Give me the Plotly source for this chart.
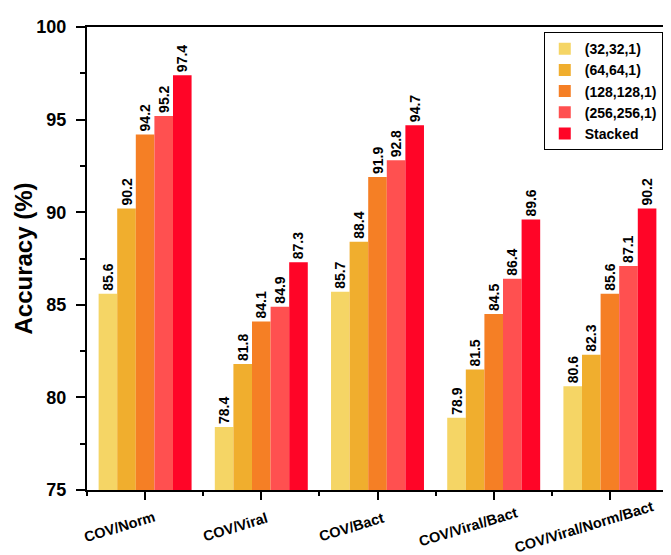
import plotly.graph_objects as go

categories = ["COV/Norm", "COV/Viral", "COV/Bact", "COV/Viral/Bact", "COV/Viral/Norm/Bact"]
series_names = ["(32,32,1)", "(64,64,1)", "(128,128,1)", "(256,256,1)", "Stacked"]
values = [
    [85.6, 78.4, 85.7, 78.9, 80.6],
    [90.2, 81.8, 88.4, 81.5, 82.3],
    [94.2, 84.1, 91.9, 84.5, 85.6],
    [95.2, 84.9, 92.8, 86.4, 87.1],
    [97.4, 87.3, 94.7, 89.6, 90.2],
]
colors = ["#F5D565", "#F0AE2E", "#F57F25", "#FF5050", "#FF0527"]
y_title = "Accuracy (%)"

xpos = list(range(len(categories)))
FONT = "Liberation Sans"

fig = go.Figure()
for name, vals, col in zip(series_names, values, colors):
    fig.add_trace(go.Bar(
        x=xpos, y=vals, name=name, marker=dict(color=col, line=dict(width=0)),
        text=[f"{v:.1f}" for v in vals], textposition="outside", textangle=-90,
        constraintext="none",
        textfont=dict(family=FONT, size=14, color="black", weight="bold"),
        cliponaxis=False,
    ))

annotations = [
    dict(x=i, y=0, xref="x", yref="paper", text=c, showarrow=False,
         textangle=-17, xanchor="center", yanchor="middle",
         xshift=-26, yshift=-37,
         font=dict(family=FONT, size=14.5, color="black", weight="bold"))
    for i, c in zip(xpos, categories)
]
annotations.append(dict(
    x=0, y=0.5, xref="paper", yref="paper", text=y_title, showarrow=False,
    textangle=-90, xanchor="center", yanchor="middle", xshift=-64,
    font=dict(family=FONT, size=24, color="black", weight="bold"),
))

fig.update_layout(
    width=671, height=555,
    margin=dict(l=79, r=9, t=10, b=73),
    barmode="group", bargap=0.2, bargroupgap=0,
    plot_bgcolor="white", paper_bgcolor="white",
    font=dict(family=FONT, color="black"),
    annotations=annotations,
    legend=dict(
        x=0.991, y=0.989, xanchor="right", yanchor="top",
        bordercolor="black", borderwidth=1, bgcolor="white",
        font=dict(family=FONT, size=14, weight="bold"),
        tracegroupgap=0,
    ),
    yaxis=dict(
        range=[75, 100], dtick=5, tickfont=dict(size=18, weight="bold"),
        ticklabelstandoff=6,
        showline=True, linecolor="black", linewidth=2, mirror=True,
        ticks="outside", ticklen=9, tickwidth=2, tickcolor="black",
        minor=dict(dtick=2.5, ticks="outside", ticklen=5, tickwidth=2, tickcolor="black"),
        showgrid=False, zeroline=False,
    ),
    xaxis=dict(
        range=[-0.5, 4.5], tickvals=xpos, ticktext=categories, showticklabels=False,
        showline=True, linecolor="black", linewidth=2, mirror=True,
        ticks="outside", ticklen=8, tickwidth=2, tickcolor="black",
        minor=dict(tickvals=[-0.5, 0.5, 1.5, 2.5, 3.5, 4.5], ticks="outside",
                   ticklen=4, tickwidth=2, tickcolor="black"),
        showgrid=False, zeroline=False,
    ),
)

fig.write_html("out.html")
